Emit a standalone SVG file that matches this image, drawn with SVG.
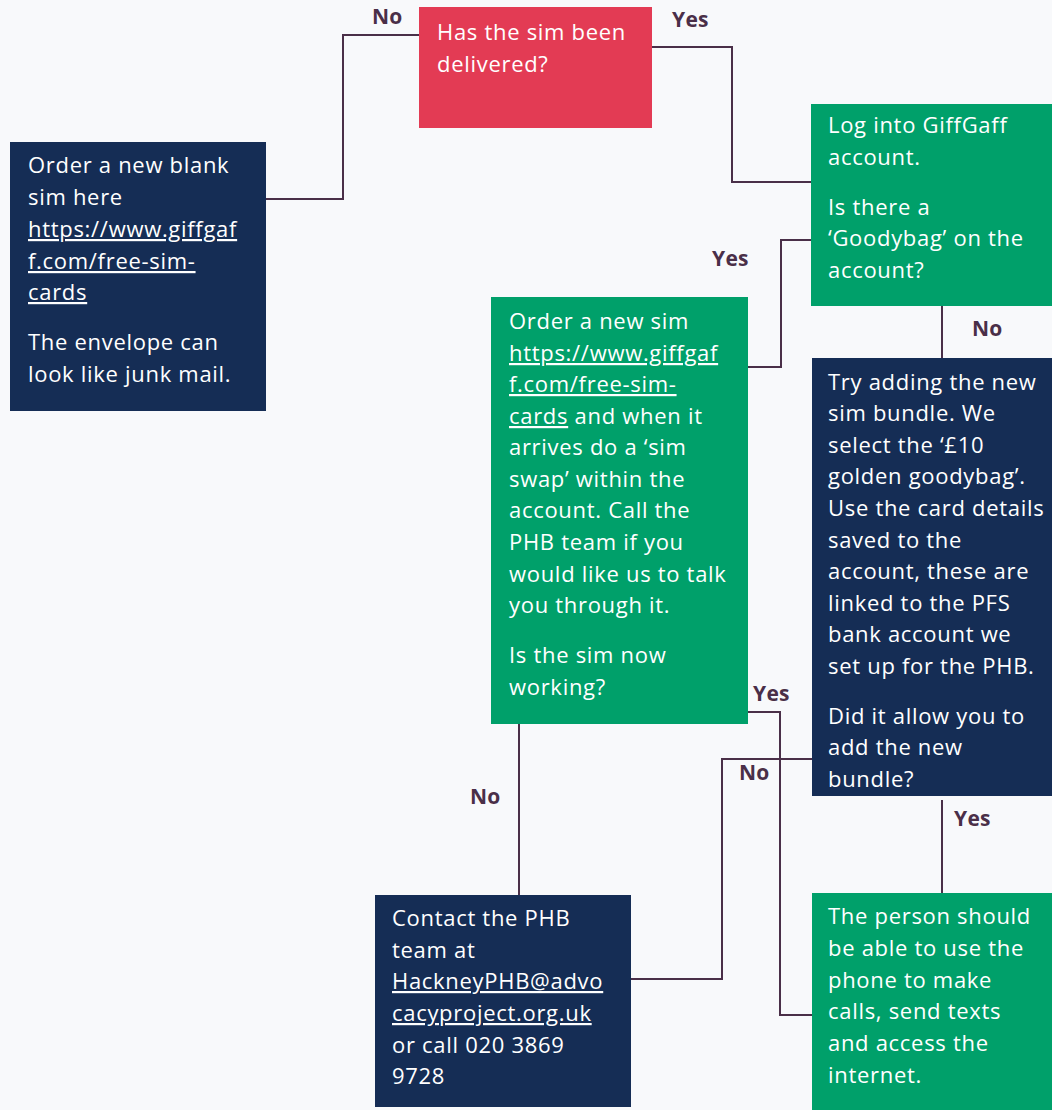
<svg xmlns="http://www.w3.org/2000/svg" width="1052" height="1110" viewBox="0 0 1052 1110">
<style>
.bg{fill:#f8f9fb}
.red{fill:#e33b54}
.navy{fill:#152d55}
.green{fill:#00a06a}
.t{font-family:"Open Sans","Liberation Sans",sans-serif;font-size:22px;letter-spacing:0.7px;fill:#ffffff}
.u{text-decoration:underline}
.lbl{font-family:"Open Sans","Liberation Sans",sans-serif;font-size:21px;font-weight:bold;letter-spacing:0.3px;fill:#4a2f48}
.c{fill:none;stroke:#4a2f48;stroke-width:2}
</style>
<rect class="bg" x="0" y="0" width="1052" height="1110"/>
<g id="connectors">
<polyline class="c" points="419,35 343,35 343,199 266,199"/>
<polyline class="c" points="652,47 732,47 732,182 811,182"/>
<polyline class="c" points="811,240 781,240 781,367 748,367"/>
<line class="c" x1="942" y1="306" x2="942" y2="358"/>
<polyline class="c" points="748,712 780,712 780,1015 812,1015"/>
<polyline class="c" points="812,759 722,759 722,979 631,979"/>
<line class="c" x1="519" y1="724" x2="519" y2="895"/>
<line class="c" x1="942" y1="800" x2="942" y2="893"/>
<text class="lbl" x="372" y="24">No</text>
<text class="lbl" x="672" y="27">Yes</text>
<text class="lbl" x="712" y="266">Yes</text>
<text class="lbl" x="972" y="336">No</text>
<text class="lbl" x="753" y="701">Yes</text>
<text class="lbl" x="739" y="780">No</text>
<text class="lbl" x="470" y="804">No</text>
<text class="lbl" x="954" y="826">Yes</text>
</g>
<g id="q-delivered">
<rect class="red" x="419" y="7" width="233" height="121"/>
<text class="t" x="437" y="40">Has the sim been</text>
<text class="t" x="437" y="72">delivered?</text>
</g>
<g id="order-blank">
<rect class="navy" x="10" y="142" width="256" height="269"/>
<text class="t" x="28" y="173">Order a new blank</text>
<text class="t" x="28" y="205">sim here</text>
<text class="t u" x="28" y="237">https://www.giffgaf</text>
<text class="t u" x="28" y="269">f.com/free-sim-</text>
<text class="t u" x="28" y="300">cards</text>
<text class="t" x="28" y="350">The envelope can</text>
<text class="t" x="28" y="382">look like junk mail.</text>
</g>
<g id="login">
<rect class="green" x="811" y="104" width="241" height="202"/>
<text class="t" x="828" y="133">Log into GiffGaff</text>
<text class="t" x="828" y="165">account.</text>
<text class="t" x="828" y="215">Is there a</text>
<text class="t" x="828" y="246">‘Goodybag’ on the</text>
<text class="t" x="828" y="278">account?</text>
</g>
<g id="order-new">
<rect class="green" x="491" y="297" width="257" height="427"/>
<text class="t" x="509" y="329">Order a new sim</text>
<text class="t u" x="509" y="361">https://www.giffgaf</text>
<text class="t u" x="509" y="392">f.com/free-sim-</text>
<text class="t" x="509" y="424"><tspan class="u">cards</tspan> and when it</text>
<text class="t" x="509" y="455">arrives do a ‘sim</text>
<text class="t" x="509" y="487">swap’ within the</text>
<text class="t" x="509" y="518">account. Call the</text>
<text class="t" x="509" y="550">PHB team if you</text>
<text class="t" x="509" y="582">would like us to talk</text>
<text class="t" x="509" y="613">you through it.</text>
<text class="t" x="509" y="663">Is the sim now</text>
<text class="t" x="509" y="695">working?</text>
</g>
<g id="try-bundle">
<rect class="navy" x="812" y="358" width="240" height="438"/>
<text class="t" x="828" y="390">Try adding the new</text>
<text class="t" x="828" y="421">sim bundle. We</text>
<text class="t" x="828" y="453">select the ‘£10</text>
<text class="t" x="828" y="484">golden goodybag’.</text>
<text class="t" x="828" y="516">Use the card details</text>
<text class="t" x="828" y="548">saved to the</text>
<text class="t" x="828" y="579">account, these are</text>
<text class="t" x="828" y="611">linked to the PFS</text>
<text class="t" x="828" y="642">bank account we</text>
<text class="t" x="828" y="674">set up for the PHB.</text>
<text class="t" x="828" y="724">Did it allow you to</text>
<text class="t" x="828" y="755">add the new</text>
<text class="t" x="828" y="787">bundle?</text>
</g>
<g id="contact">
<rect class="navy" x="375" y="895" width="256" height="212"/>
<text class="t" x="392" y="926">Contact the PHB</text>
<text class="t" x="392" y="958">team at</text>
<text class="t u" x="392" y="989">HackneyPHB@advo</text>
<text class="t u" x="392" y="1021">cacyproject.org.uk</text>
<text class="t" x="392" y="1053">or call 020 3869</text>
<text class="t" x="392" y="1084">9728</text>
</g>
<g id="success">
<rect class="green" x="812" y="893" width="240" height="217"/>
<text class="t" x="828" y="924">The person should</text>
<text class="t" x="828" y="956">be able to use the</text>
<text class="t" x="828" y="988">phone to make</text>
<text class="t" x="828" y="1019">calls, send texts</text>
<text class="t" x="828" y="1051">and access the</text>
<text class="t" x="828" y="1083">internet.</text>
</g>
</svg>
